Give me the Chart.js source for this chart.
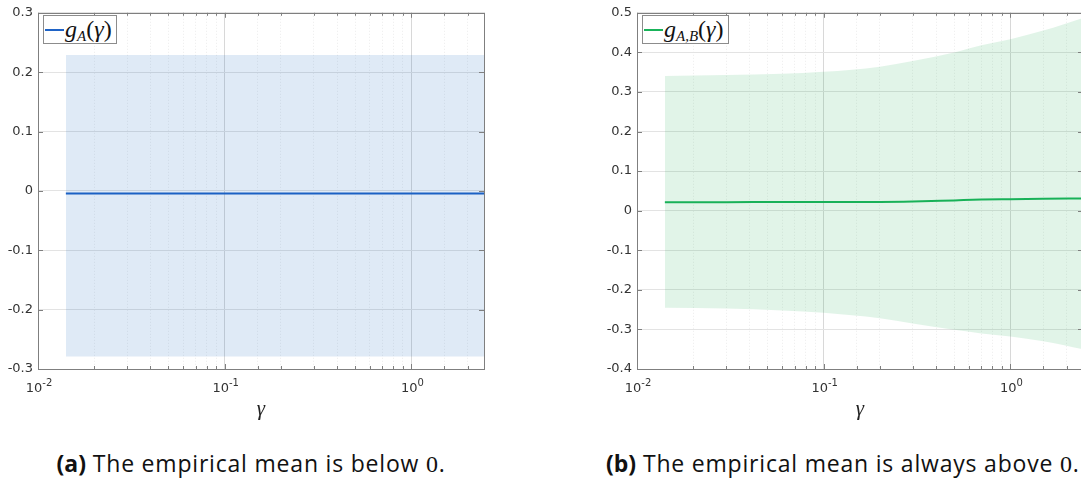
<!DOCTYPE html>
<html>
<head>
<meta charset="utf-8">
<script src="https://cdn.jsdelivr.net/npm/chart.js@4.4.1/dist/chart.umd.min.js"></script>
<style>
  html, body { margin: 0; padding: 0; background: #fff; width: 1081px; height: 484px; overflow: hidden; }
  .panel { position: absolute; top: 0; width: 500px; height: 422px; }
  .legend { position: absolute; top: 15px; height: 27px; border: 1px solid #8c8c8c; background: #fff;
            font-family: "Liberation Serif", serif; font-style: italic; font-size: 24px; line-height: 27px;
            padding: 0 4px 0 0; white-space: nowrap; color: #111; }
  .legend .swatch { display: inline-block; width: 19px; height: 0; border-top: 2px solid; vertical-align: middle; margin: 0 1px 0 1px; position: relative; top: -1px; }
  .legend sub { font-size: 15px; vertical-align: -4px; }
  .legend .up { font-style: normal; }
  .caption { position: absolute; top: 447px; font-family: "Open Sans", sans-serif; font-size: 23px; letter-spacing: 0.8px;
             color: #111; white-space: nowrap; }
  .caption b { font-weight: 700; letter-spacing: 0; }
  .caption .m { font-family: "Liberation Serif", serif; font-size: 24px; }
</style>
</head>
<body>

<div class="panel" style="left:0"><canvas id="chartA" width="500" height="422"></canvas></div>
<div class="panel" style="left:599px"><canvas id="chartB" width="500" height="422"></canvas></div>

<div class="legend" style="left:43px"><span class="swatch" style="border-color:#1f63c6"></span>g<sub>A</sub><span class="up">(</span>γ<span class="up">)</span></div>
<div class="legend" style="left:642px"><span class="swatch" style="border-color:#19b35a"></span>g<sub>A,B</sub><span class="up">(</span>γ<span class="up">)</span></div>

<div class="caption" id="capA"><b>(a)</b> The empirical mean is below <span class="m">0</span>.</div>
<div class="caption" id="capB"><b>(b)</b> The empirical mean is always above <span class="m">0</span>.</div>

<script>
// (a) g_A(gamma): mean and spread band
const gammaA = [0.0141, 0.03, 0.1, 0.3, 1, 2.45];
const meanA  = [-0.0045, -0.0045, -0.0045, -0.0045, -0.0045, -0.0045];
const upperA = [0.229, 0.229, 0.229, 0.229, 0.229, 0.229];
const lowerA = [-0.279, -0.279, -0.279, -0.279, -0.279, -0.279];

// (b) g_A,B(gamma): mean and spread band
const gammaB = [0.0141, 0.03, 0.06, 0.1, 0.2, 0.3, 0.5, 0.7, 1, 1.5, 2.45];
const meanB  = [0.0215, 0.0215, 0.022, 0.022, 0.022, 0.023, 0.026, 0.028, 0.029, 0.030, 0.031];
const upperB = [0.340, 0.343, 0.346, 0.351, 0.364, 0.378, 0.400, 0.418, 0.433, 0.455, 0.487];
const lowerB = [-0.245, -0.247, -0.252, -0.258, -0.272, -0.285, -0.301, -0.310, -0.318, -0.330, -0.350];

const xMin = 0.01, xMax = 2.45;

function pts(xs, ys) {
  return xs.map((x, i) => ({ x: x, y: ys[i] }));
}

function isDecade(v) {
  const l = Math.log10(v);
  return Math.abs(l - Math.round(l)) < 1e-6;
}

// box around the plot with inward ticks on all four sides,
// plus the 10^n labels under the decade ticks
const boxPlugin = {
  id: 'box',
  afterDatasetsDraw(chart) {
    const { ctx, chartArea: a, scales } = chart;
    ctx.save();
    ctx.strokeStyle = '#7f7f7f';
    ctx.lineWidth = 1;
    ctx.beginPath();
    scales.x.ticks.forEach(t => {
      const px = Math.round(scales.x.getPixelForValue(t.value)) + 0.5;
      const len = isDecade(t.value) ? 5 : 3;
      ctx.moveTo(px, a.bottom); ctx.lineTo(px, a.bottom - len);
      ctx.moveTo(px, a.top); ctx.lineTo(px, a.top + len);
    });
    scales.y.ticks.forEach(t => {
      const py = Math.round(scales.y.getPixelForValue(t.value)) + 0.5;
      ctx.moveTo(a.left, py); ctx.lineTo(a.left + 5, py);
      ctx.moveTo(a.right, py); ctx.lineTo(a.right - 5, py);
    });
    ctx.stroke();
    ctx.strokeRect(Math.round(a.left) + 0.5, Math.round(a.top) + 0.5,
                   Math.round(a.right - a.left), Math.round(a.bottom - a.top));

    ctx.fillStyle = '#333';
    ctx.textBaseline = 'alphabetic';
    ctx.textAlign = 'left';
    scales.x.ticks.filter(t => isDecade(t.value)).forEach(t => {
      const px = scales.x.getPixelForValue(t.value);
      const base = '10', exp = String(Math.round(Math.log10(t.value)));
      ctx.font = '13px "DejaVu Sans"';
      const wb = ctx.measureText(base).width;
      ctx.font = '10px "DejaVu Sans"';
      const we = ctx.measureText(exp).width;
      const x0 = px - (wb + we) / 2 + 1;
      ctx.font = '13px "DejaVu Sans"';
      ctx.fillText(base, x0, a.bottom + 23);
      ctx.font = '10px "DejaVu Sans"';
      ctx.fillText(exp, x0 + wb, a.bottom + 17);
    });
    ctx.restore();
  }
};

function makeChart(id, xs, mean, upper, lower, lineColor, fillColor, yMin, yMax) {
  return new Chart(document.getElementById(id), {
    type: 'line',
    data: {
      datasets: [
        { data: pts(xs, upper), borderWidth: 0, pointRadius: 0, fill: '+1',
          backgroundColor: fillColor, cubicInterpolationMode: 'monotone' },
        { data: pts(xs, lower), borderWidth: 0, pointRadius: 0, fill: false,
          cubicInterpolationMode: 'monotone' },
        { data: pts(xs, mean), borderColor: lineColor, borderWidth: 2, pointRadius: 0, fill: false,
          cubicInterpolationMode: 'monotone' }
      ]
    },
    options: {
      responsive: false,
      animation: false,
      events: [],
      layout: { padding: { top: 10, right: 16, left: 0, bottom: 0 } },
      plugins: { legend: { display: false }, tooltip: { enabled: false } },
      scales: {
        x: {
          type: 'logarithmic',
          min: xMin, max: xMax,
          afterFit: s => { s.height = 53; },
          border: {
            display: false,
            dash: c => (c.tick && !isDecade(c.tick.value) ? [1, 2] : [])
          },
          grid: {
            drawTicks: false,
            color: c => (c.tick && isDecade(c.tick.value) ? '#d8d8d8' : '#ececec')
          },
          ticks: { display: false, autoSkip: false },
          title: {
            display: true, text: 'γ', padding: { top: 0, bottom: 0 },
            color: '#222', font: { family: 'Liberation Serif', style: 'italic', size: 21 }
          }
        },
        y: {
          min: yMin, max: yMax,
          afterFit: s => { s.width = 38; },
          border: { display: false },
          grid: { drawTicks: false, color: '#e3e3e3' },
          ticks: {
            stepSize: 0.1, padding: 5,
            color: '#333', font: { family: 'DejaVu Sans', size: 13 },
            callback: v => {
              const r = Math.round(v * 10) / 10;
              return r === 0 ? '0' : r.toFixed(1);
            }
          }
        }
      }
    },
    plugins: [boxPlugin]
  });
}

makeChart('chartA', gammaA, meanA, upperA, lowerA, '#1f63c6', 'rgba(0, 90, 180, 0.125)', -0.3, 0.3);
makeChart('chartB', gammaB, meanB, upperB, lowerB, '#19b35a', 'rgba(20, 170, 80, 0.13)', -0.4, 0.5);

// center the captions under each panel
function centerCaption(id, cx) {
  const el = document.getElementById(id);
  el.style.left = (cx - el.offsetWidth / 2) + 'px';
}
centerCaption('capA', 251);
centerCaption('capB', 843);
</script>
</body>
</html>
